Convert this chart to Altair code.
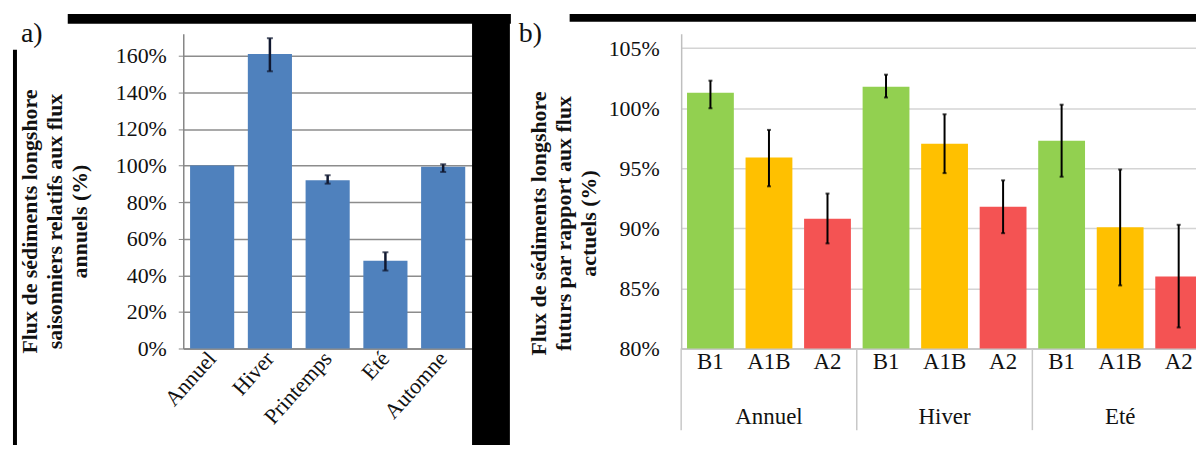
import altair as alt
import pandas as pd

FONT = "'Liberation Serif', 'Times New Roman', Times, serif"

# ---------------- Panel a data ----------------
cats_a = ["Annuel", "Hiver", "Printemps", "Eté", "Automne"]
vals_a = [100, 161, 92, 48, 99.4]
err_lo_a = [None, 151.5, 90.1, 42.6, 96.5]
err_hi_a = [None, 169.6, 94.7, 52.6, 100.7]
ticks_a = [0, 20, 40, 60, 80, 100, 120, 140, 160]
title_a = ["Flux de sédiments longshore", "saisonniers relatifs aux flux", "annuels (%)"]

# ---------------- Panel b data ----------------
seasons_b = ["Annuel", "Hiver", "Eté"]
scen_b = ["B1", "A1B", "A2"]
vals_B1 = [101.3, 101.8, 97.3]
vals_A1B = [95.9, 97.05, 90.1]
vals_A2 = [90.8, 91.8, 86.0]
lo_B1 = [100.0, 100.9, 94.3]
hi_B1 = [102.3, 102.8, 100.3]
lo_A1B = [93.5, 94.6, 85.25]
hi_A1B = [98.2, 99.5, 94.9]
lo_A2 = [88.75, 89.6, 81.75]
hi_A2 = [92.9, 94.0, 90.3]
ticks_b = [80, 85, 90, 95, 100, 105]
colors_b = ["#92D050", "#FFC000", "#F45353"]
title_b = ["Flux de sédiments longshore", "futurs par rapport aux flux", "actuels (%)"]

dfa = pd.DataFrame({"cat": cats_a, "val": vals_a, "lo": err_lo_a, "hi": err_hi_a})

rows = []
for i, s in enumerate(seasons_b):
    for sc, v, lo, hi in (("B1", vals_B1, lo_B1, hi_B1), ("A1B", vals_A1B, lo_A1B, hi_A1B), ("A2", vals_A2, lo_A2, hi_A2)):
        rows.append({"season": s, "scen": sc, "val": v[i], "lo": lo[i], "hi": hi[i]})
dfb = pd.DataFrame(rows)
dfs = pd.DataFrame({"season": seasons_b})
one = pd.DataFrame({"k": [0]})

H = 316
W_A = 290
W_B = 529

# ---------------- Panel a ----------------
xa_axis = alt.Axis(labelAngle=312, labelFont=FONT, labelFontSize=22, labelColor="#111",
                   labelPadding=6, ticks=False, domainColor="#868686", domainWidth=1.5,
                   labelAlign="right", labelBaseline="middle")
xa = alt.X("cat:N", sort=cats_a, title=None,
           scale=alt.Scale(paddingInner=0.236, paddingOuter=0.118), axis=xa_axis)
ya_scale = alt.Scale(domain=[0, 172], nice=False)
ya_axis = alt.Axis(values=ticks_a, labelExpr="datum.value + '%'", labelFont=FONT,
                   labelFontSize=22, labelColor="#111", labelPadding=12,
                   tickSize=5, tickColor="#868686", domainColor="#868686", domainWidth=1.5,
                   gridColor="#8c8c8c", gridWidth=1.5,
                   title=title_a, titleFont=FONT, titleFontSize=22, titleFontWeight="bold",
                   titleColor="#111", titleAngle=270, titleAlign="center", titleBaseline="top",
                   titleLineHeight=25, titleX=-164, titleY=188)

bars_a = alt.Chart(dfa).mark_bar(color="#4F81BD").encode(
    x=xa, y=alt.Y("val:Q", scale=ya_scale, axis=ya_axis))
err_a = alt.Chart(dfa).mark_rule(color="#101830", strokeWidth=2.5).encode(
    x=xa, y=alt.Y("lo:Q", scale=ya_scale, axis=ya_axis), y2="hi:Q")
cap_lo_a = alt.Chart(dfa).mark_tick(color="#101830", size=6, thickness=2).encode(
    x=xa, y=alt.Y("lo:Q", scale=ya_scale, axis=ya_axis))
cap_hi_a = alt.Chart(dfa).mark_tick(color="#101830", size=6, thickness=2).encode(
    x=xa, y=alt.Y("hi:Q", scale=ya_scale, axis=ya_axis))

top_a = alt.Chart(one).mark_rect(color="black").encode(
    x=alt.value(-116), x2=alt.value(329), y=alt.value(-20), y2=alt.value(-10))
left_a = alt.Chart(one).mark_rect(color="black").encode(
    x=alt.value(-171), x2=alt.value(-167), y=alt.value(16), y2=alt.value(440))
gutter = alt.Chart(one).mark_rect(color="black").encode(
    x=alt.value(290), x2=alt.value(328), y=alt.value(-20), y2=alt.value(440))
lab_a = alt.Chart(one).mark_text(text="a)", font=FONT, fontSize=28, align="left",
                                 baseline="alphabetic", color="#111").encode(
    x=alt.value(-163), y=alt.value(8))

panel_a = alt.layer(top_a, left_a, gutter, lab_a, bars_a, err_a, cap_lo_a, cap_hi_a).properties(
    width=W_A, height=H)

# ---------------- Panel b ----------------
xb_axis = alt.Axis(labelFont=FONT, labelFontSize=23, labelColor="#111", ticks=False, tickSize=0,
                   labelPadding=57, domainColor="#bfbfbf", domainWidth=1.5, labelAngle=0)
xb = alt.X("season:N", sort=seasons_b, title=None,
           scale=alt.Scale(paddingInner=0, paddingOuter=0), axis=xb_axis)
xo = alt.XOffset("scen:N", sort=scen_b, scale=alt.Scale(paddingInner=0.2, paddingOuter=0.1))
yb_scale = alt.Scale(domain=[80, 106.2], nice=False, zero=False)
yb_axis = alt.Axis(values=ticks_b, labelExpr="datum.value + '%'", labelFont=FONT,
                   labelFontSize=22, labelColor="#111", labelPadding=22, ticks=False,
                   domainColor="#bfbfbf", domainWidth=1.5, gridColor="#d4d4d4", gridWidth=1.5,
                   title=title_b, titleFont=FONT, titleFontSize=22, titleFontWeight="bold",
                   titleColor="#111", titleAngle=270, titleAlign="center", titleBaseline="top",
                   titleLineHeight=25, titleX=-153, titleY=190)
color_b = alt.Color("scen:N", sort=scen_b, scale=alt.Scale(domain=scen_b, range=colors_b), legend=None)

bars_b = alt.Chart(dfb).mark_bar(clip=True).encode(
    x=xb, xOffset=xo, y=alt.Y("val:Q", scale=yb_scale, axis=yb_axis), color=color_b)
err_b = alt.Chart(dfb).mark_rule(color="black", strokeWidth=2).encode(
    x=xb, xOffset=xo, y=alt.Y("lo:Q", scale=yb_scale, axis=yb_axis), y2="hi:Q")
cap_lo_b = alt.Chart(dfb).mark_tick(color="black", size=4, thickness=2).encode(
    x=xb, xOffset=xo, y=alt.Y("lo:Q", scale=yb_scale, axis=yb_axis))
cap_hi_b = alt.Chart(dfb).mark_tick(color="black", size=4, thickness=2).encode(
    x=xb, xOffset=xo, y=alt.Y("hi:Q", scale=yb_scale, axis=yb_axis))
scen_lab = alt.Chart(dfb).mark_text(font=FONT, fontSize=23, baseline="middle", color="#111").encode(
    x=xb, xOffset=xo, y=alt.value(H + 14), text="scen:N")
sep = alt.Chart(dfs).mark_rule(color="#c8c8c8", strokeWidth=1.5).encode(
    x=alt.X("season:N", sort=seasons_b, bandPosition=0, scale=alt.Scale(paddingInner=0, paddingOuter=0), axis=xb_axis, title=None),
    y=alt.value(H), y2=alt.value(H + 82))

box_b = alt.Chart(one).mark_rect(color="white").encode(
    x=alt.value(-169), x2=alt.value(-112), y=alt.value(-20), y2=alt.value(16))
top_b = alt.Chart(one).mark_rect(color="black").encode(
    x=alt.value(-112), x2=alt.value(545), y=alt.value(-20), y2=alt.value(-12))
lab_b = alt.Chart(one).mark_text(text="b)", font=FONT, fontSize=28, align="left",
                                 baseline="alphabetic", color="#111").encode(
    x=alt.value(-163), y=alt.value(8))

panel_b = alt.layer(box_b, top_b, lab_b, sep, bars_b, err_b, cap_lo_b, cap_hi_b, scen_lab).properties(
    width=W_B, height=H)

# negative right/bottom padding crops the chart at the window edge like the reference
chart = alt.hconcat(panel_a, panel_b, spacing=0).properties(
    padding={"left": 4, "top": 4, "right": -29, "bottom": -29},
    background="white",
).configure(font=FONT).configure_view(stroke="transparent")

chart.save("out.html", embed_options={"renderer": "svg", "actions": False})
